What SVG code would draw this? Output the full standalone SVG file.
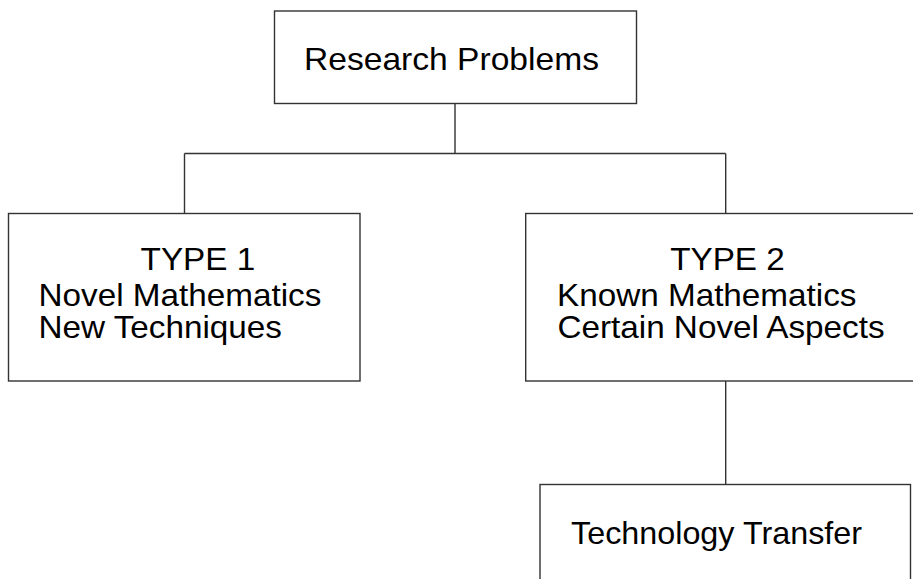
<svg xmlns="http://www.w3.org/2000/svg" width="913" height="579" viewBox="0 0 913 579">
<style>
.box{fill:#fff;stroke:#333;stroke-width:1.4}
.conn{stroke:#333;stroke-width:1.4;fill:none}
text{font-family:"Liberation Sans",Arial,Helvetica,sans-serif;font-size:32px;fill:#000}
</style>
<rect width="913" height="579" fill="#fff"/>
<g id="connectors">
<path class="conn" d="M455,103.5 V153.5 M184.5,153.5 H725.7 M184.5,153.5 V213.5 M725.7,153.5 V213.5 M725.7,381 V484.5"/>
</g>
<g id="research-problems">
<rect class="box" x="274.5" y="11" width="362" height="92.5"/>
<text transform="translate(304,70) scale(1.05,1)">Research Problems</text>
</g>
<g id="type1">
<rect class="box" x="8.5" y="213.5" width="351.5" height="167.5"/>
<text transform="translate(38.5,0) scale(1.04,1)"><tspan x="98.2" y="270">TYPE 1</tspan><tspan x="0" y="306.5">Novel Mathematics</tspan><tspan x="0" y="338.5">New Techniques</tspan></text>
</g>
<g id="type2">
<rect class="box" x="525.7" y="213.5" width="420" height="167.5"/>
<text transform="translate(557,0) scale(1.04,1)"><tspan x="108.8" y="270">TYPE 2</tspan><tspan x="0" y="306.5">Known Mathematics</tspan><tspan x="0.4" y="338.5">Certain Novel Aspects</tspan></text>
</g>
<g id="technology-transfer">
<rect class="box" x="540" y="484.5" width="370.5" height="130"/>
<text transform="translate(571,543.5) scale(1.01,1)">Technology Transfer</text>
</g>
</svg>
